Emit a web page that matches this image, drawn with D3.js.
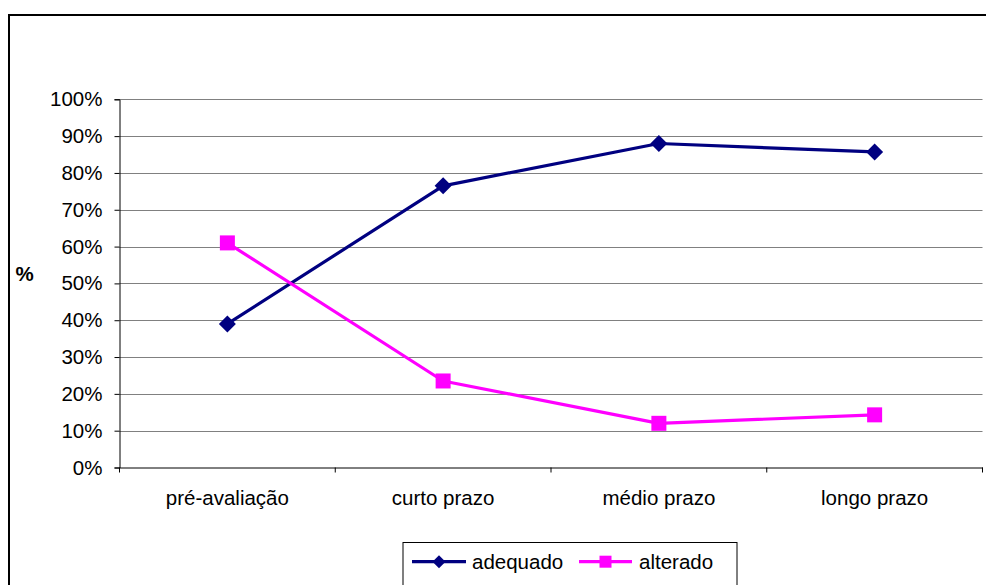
<!DOCTYPE html>
<html>
<head>
<meta charset="utf-8">
<script src="https://cdn.jsdelivr.net/npm/d3@7"></script>
<style>
  html, body { margin: 0; padding: 0; background: #fff; }
  svg { display: block; }
  text { font-family: "Liberation Sans", Arial, sans-serif; fill: #000; }
</style>
</head>
<body>
<svg id="chart" width="986" height="585"></svg>
<script>
const categories = ["pré-avaliação", "curto prazo", "médio prazo", "longo prazo"];
const adequado = [39, 76.5, 88, 85.7];
const alterado = [61, 23.5, 12, 14.3];
const yTicks = [0, 10, 20, 30, 40, 50, 60, 70, 80, 90, 100];
const seriesNames = ["adequado", "alterado"];
const seriesColors = ["#000080", "#FF00FF"];

const svg = d3.select("#chart");
const W = 986, H = 585;
const plot = { left: 119.5, right: 982.5, top: 99.3, bottom: 467.5 };
const fs = 20.5;

// outer frame
svg.append("rect").attr("x", 9).attr("y", 15).attr("width", W + 10).attr("height", H + 10)
  .attr("fill", "#fff").attr("stroke", "#000").attr("stroke-width", 2);

const x = d3.scaleBand().domain(categories).range([plot.left, plot.right]).paddingInner(0).paddingOuter(0);
const y = d3.scaleLinear().domain([0, 100]).range([plot.bottom, plot.top]);

// gridlines
svg.append("g").selectAll("line").data(yTicks.filter(d => d > 0)).join("line")
  .attr("x1", plot.left).attr("x2", plot.right)
  .attr("y1", d => Math.round(y(d)) + 0.5).attr("y2", d => Math.round(y(d)) + 0.5)
  .attr("stroke", "#808080").attr("stroke-width", 1);

// y axis
const yAxis = d3.axisLeft(y).tickValues(yTicks).tickFormat(d => d + "%").tickSize(5).tickPadding(12);
const gy = svg.append("g").attr("transform", `translate(${plot.left},0)`).call(yAxis);
gy.select(".domain").attr("stroke", "#000");
gy.selectAll(".tick line").attr("stroke", "#000");
gy.selectAll(".tick text").attr("font-size", fs).attr("font-family", "Liberation Sans, Arial, sans-serif").attr("fill", "#000");

// x axis
const xAxis = d3.axisBottom(x).tickSize(0).tickPadding(23);
const gx = svg.append("g").attr("transform", `translate(0,${plot.bottom})`).call(xAxis);
gx.select(".domain").attr("stroke", "#000");
gx.selectAll(".tick text").attr("font-size", fs).attr("font-family", "Liberation Sans, Arial, sans-serif").attr("fill", "#000");
// category boundary ticks
svg.append("g").selectAll("line").data(categories).join("line")
  .attr("x1", d => x(d) + x.bandwidth()).attr("x2", d => x(d) + x.bandwidth())
  .attr("y1", plot.bottom).attr("y2", plot.bottom + 5)
  .attr("stroke", "#000");
svg.append("line").attr("x1", plot.left).attr("x2", plot.left)
  .attr("y1", plot.bottom).attr("y2", plot.bottom + 5).attr("stroke", "#000");

// y title
svg.append("text").attr("x", 24.5).attr("y", 281).attr("text-anchor", "middle")
  .attr("font-size", fs).attr("font-weight", "bold").text("%");

const cx = c => x(c) + x.bandwidth() / 2;
const line = d3.line().x((d, i) => cx(categories[i])).y(d => y(d));

const diamond = (g, px, py, s) => g.append("path")
  .attr("d", `M${px},${py - s}L${px + s},${py}L${px},${py + s}L${px - s},${py}Z`);

const allSeries = [adequado, alterado];
allSeries.forEach((vals, si) => {
  const col = seriesColors[si];
  svg.append("path").datum(vals).attr("d", line).attr("fill", "none")
    .attr("stroke", col).attr("stroke-width", 3.2).attr("stroke-linejoin", "round");
  const g = svg.append("g").attr("fill", col);
  vals.forEach((v, i) => {
    const px = cx(categories[i]), py = y(v);
    if (si === 0) diamond(g, px, py, 8.5);
    else g.append("rect").attr("x", px - 7.5).attr("y", py - 7.5).attr("width", 15).attr("height", 15);
  });
});

// legend
const lg = svg.append("g");
lg.append("rect").attr("x", 403).attr("y", 542.5).attr("width", 334).attr("height", 60)
  .attr("fill", "#fff").attr("stroke", "#000").attr("stroke-width", 1);
const legendItems = [
  { x1: 412, x2: 466, tx: 472 },
  { x1: 579, x2: 632, tx: 639 }
];
seriesNames.forEach((name, i) => {
  const it = legendItems[i], ly = 561.7, col = seriesColors[i];
  lg.append("line").attr("x1", it.x1).attr("x2", it.x2).attr("y1", ly).attr("y2", ly)
    .attr("stroke", col).attr("stroke-width", 3.2);
  const mx = (it.x1 + it.x2) / 2;
  const gg = lg.append("g").attr("fill", col);
  if (i === 0) diamond(gg, mx, ly, 6.5);
  else gg.append("rect").attr("x", mx - 6).attr("y", ly - 6).attr("width", 12).attr("height", 12);
  lg.append("text").attr("x", it.tx).attr("y", ly + 7.3).attr("font-size", fs).text(name);
});
</script>
</body>
</html>
